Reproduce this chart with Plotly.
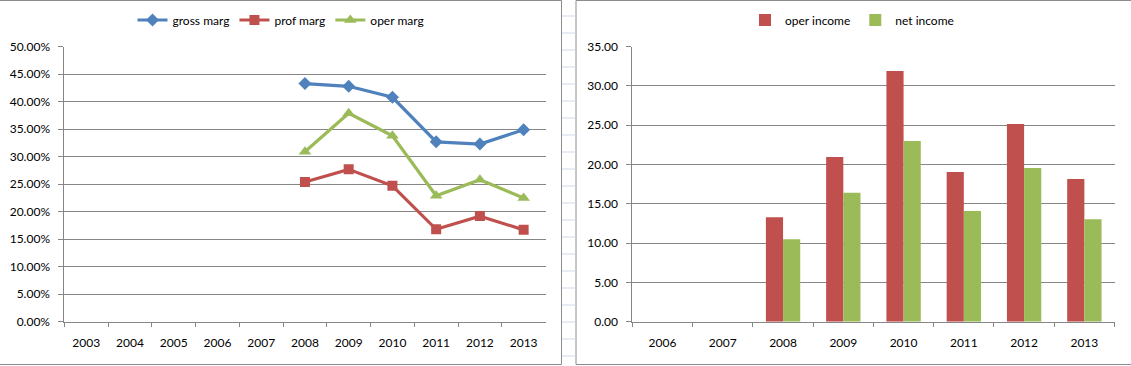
import plotly.graph_objects as go

# ---------------- data ----------------
years_left = ["2003", "2004", "2005", "2006", "2007", "2008", "2009", "2010", "2011", "2012", "2013"]
gross_marg = [None, None, None, None, None, 0.433, 0.428, 0.408, 0.327, 0.323, 0.349]
prof_marg = [None, None, None, None, None, 0.254, 0.277, 0.247, 0.168, 0.192, 0.167]
oper_marg = [None, None, None, None, None, 0.309, 0.379, 0.338, 0.229, 0.258, 0.225]

years_right = ["2006", "2007", "2008", "2009", "2010", "2011", "2012", "2013"]
oper_income = [None, None, 13.3, 20.95, 31.9, 19.05, 25.15, 18.15]
net_income = [None, None, 10.5, 16.4, 23.0, 14.1, 19.55, 13.05]

# ---------------- style ----------------
W, H = 1131, 366
BLUE, RED, GREEN = "#4F81BD", "#C0504D", "#9BBB59"
GRID = "#868686"
FONT = dict(family="Lato, 'Open Sans', sans-serif", size=12, color="#000000")


def px_x(v):
    return v / W


def px_y(v):
    return 1 - v / H


fig = go.Figure()

fig.add_trace(go.Scatter(x=years_left, y=gross_marg, name="gross marg", mode="lines+markers",
                         line=dict(color=BLUE, width=3.2), marker=dict(symbol="diamond", size=10, color=BLUE),
                         xaxis="x", yaxis="y", legend="legend"))
fig.add_trace(go.Scatter(x=years_left, y=prof_marg, name="prof marg", mode="lines+markers",
                         line=dict(color=RED, width=3.2), marker=dict(symbol="square", size=10, color=RED),
                         xaxis="x", yaxis="y", legend="legend"))
fig.add_trace(go.Scatter(x=years_left, y=oper_marg, name="oper marg", mode="lines+markers",
                         line=dict(color=GREEN, width=3.2), marker=dict(symbol="triangle-up", size=11, color=GREEN),
                         xaxis="x", yaxis="y", legend="legend"))

fig.add_trace(go.Bar(x=years_right, y=oper_income, name="oper income", marker=dict(color=RED, line=dict(width=0)),
                     xaxis="x2", yaxis="y2", legend="legend2"))
fig.add_trace(go.Bar(x=years_right, y=net_income, name="net income", marker=dict(color=GREEN, line=dict(width=0)),
                     xaxis="x2", yaxis="y2", legend="legend2"))

ydom = [px_y(321.7), px_y(46.7)]

xaxis_common = dict(type="category", showline=True, linecolor=GRID, linewidth=1, ticks="outside",
                    tickson="boundaries", ticklen=4, tickcolor=GRID, showgrid=False, zeroline=False,
                    tickfont=FONT, ticklabelstandoff=10, automargin=False)
yaxis_common = dict(showline=True, linecolor=GRID, linewidth=1, ticks="outside", ticklen=5, tickcolor=GRID,
                    showgrid=True, gridcolor=GRID, gridwidth=1, zeroline=False, tickfont=FONT,
                    ticklabelstandoff=6, automargin=False)

shapes = []
# chart borders
shapes.append(dict(type="rect", xref="paper", yref="paper", x0=px_x(-1), x1=px_x(561.5),
                   y0=px_y(364.5), y1=px_y(0.5), line=dict(color="#8C8C8C", width=1)))
shapes.append(dict(type="rect", xref="paper", yref="paper", x0=px_x(576), x1=px_x(1136),
                   y0=px_y(364.5), y1=px_y(0.5), line=dict(color="#8C8C8C", width=1)))
# spreadsheet row lines visible between the charts
for k in range(21):
    yy = 16 + 17 * k
    shapes.append(dict(type="line", xref="paper", yref="paper", x0=px_x(562), x1=px_x(575.5),
                       y0=px_y(yy), y1=px_y(yy), line=dict(color="#D0D7E5", width=1)))

fig.update_layout(
    template="none",
    width=W, height=H, autosize=False,
    margin=dict(l=0, r=0, t=0, b=0, pad=0, autoexpand=False),
    paper_bgcolor="white", plot_bgcolor="white",
    font=FONT,
    barmode="group", bargap=0.43, bargroupgap=0,
    xaxis=dict(domain=[px_x(64.4), px_x(545.5)], anchor="y", categoryorder="array",
               categoryarray=years_left, range=[-0.5, len(years_left) - 0.5], **xaxis_common),
    yaxis=dict(domain=ydom, anchor="x", range=[0, 0.5], dtick=0.05, tickformat=".2%", **yaxis_common),
    xaxis2=dict(domain=[px_x(632.4), px_x(1114.5)], anchor="y2", categoryorder="array",
                categoryarray=years_right, range=[-0.5, len(years_right) - 0.5], **xaxis_common),
    yaxis2=dict(domain=ydom, anchor="x2", range=[0, 35], dtick=5, tickformat=".2f", **yaxis_common),
    legend=dict(orientation="h", x=px_x(281), xanchor="center", y=px_y(20), yanchor="middle",
                font=FONT, bgcolor="rgba(0,0,0,0)", itemwidth=30),
    legend2=dict(orientation="h", x=px_x(852), xanchor="center", y=px_y(20), yanchor="middle",
                 font=FONT, bgcolor="rgba(0,0,0,0)", itemwidth=30),
    showlegend=True,
    hovermode=False,
    shapes=shapes,
)

fig.write_html("out.html", config={"displayModeBar": False, "staticPlot": True},
               post_script="document.body.style.margin='0';document.body.style.overflow='hidden';")
